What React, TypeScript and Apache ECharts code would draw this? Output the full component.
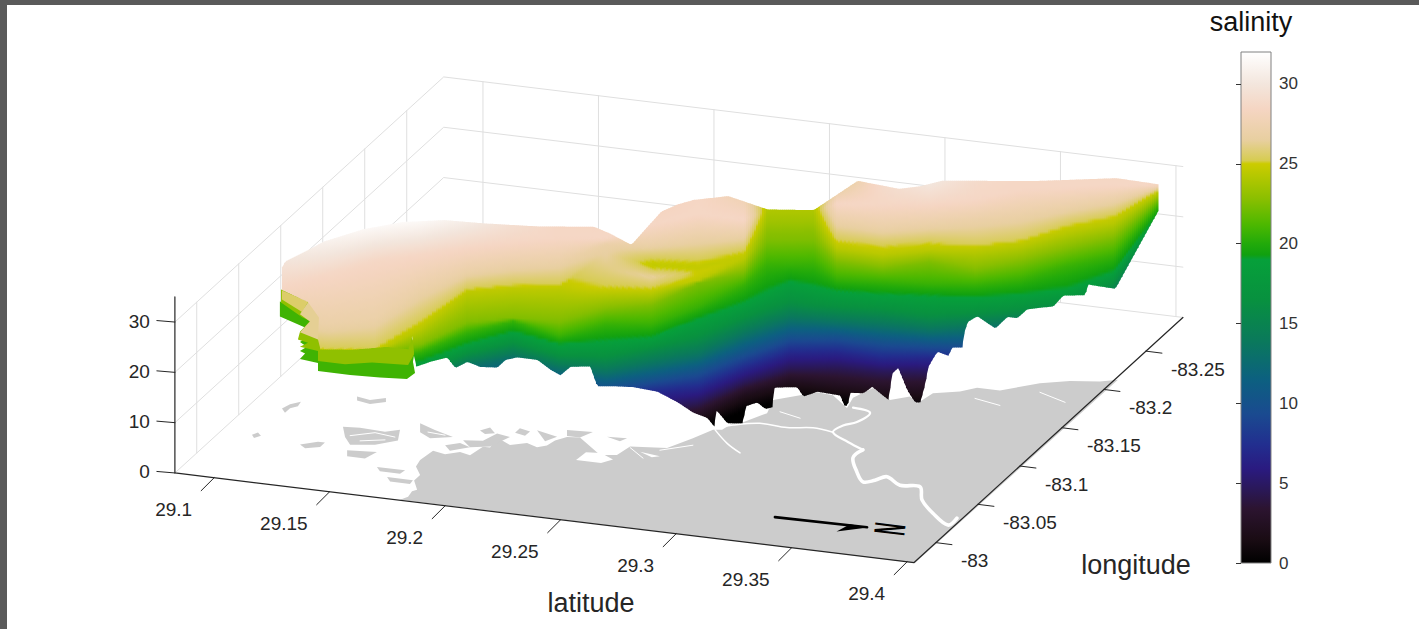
import React, { useEffect, useRef } from "react";
import * as echarts from "echarts";

// ---- axes ----
const latLimits = [29.083, 29.403];
const lonLimits = [-82.974, -83.294];
const latTicks = [29.1, 29.15, 29.2, 29.25, 29.3, 29.35, 29.4];
const latTickLabels = ["29.1", "29.15", "29.2", "29.25", "29.3", "29.35", "29.4"];
const lonTicks = [-83, -83.05, -83.1, -83.15, -83.2, -83.25];
const lonTickLabels = ["-83", "-83.05", "-83.1", "-83.15", "-83.2", "-83.25"];
const salTicks = [0, 10, 20, 30];
const colorbarTicks = [0, 5, 10, 15, 20, 25, 30];

// colormap: salinity -> colour
const cmapSal = [0, 1.5, 3.4, 4.6, 5.9, 7.4, 9.3, 11.5, 14, 16.5, 19, 19.3, 20, 21.2, 22.8, 25, 25.2, 26.5, 28.4, 30, 32];
const cmapCol = ["#000000", "#1a0c14", "#2c1430", "#2a1858", "#2a1a80", "#222e8f", "#1a4a90", "#0c6080", "#0a7a5a", "#08913f", "#06a03a", "#10a010", "#22aa0a", "#4db800", "#8abf00", "#cccc00", "#d6cc50", "#e8cfa0", "#f5d5c2", "#f3e6dd", "#ffffff"];

// ---- salinity surface: oblique transects ----
// Each transect is named by the latitude at which it crosses the -83 meridian.
// Offsets are distances along the transect, in units of 0.001152 deg of longitude.
const transectLat = [29.12, 29.14, 29.16, 29.18, 29.2, 29.22, 29.24, 29.26, 29.28, 29.3, 29.32, 29.33, 29.34, 29.35, 29.36, 29.38, 29.4, 29.42, 29.44, 29.46, 29.48, 29.5];

const offsets0 = [55, 78, 93, 104, 115, 124, 133, 134, 163, 178, 185, 198, 201, 204, 216, 211, 212, 226, 235, 242, 249, 250];
const sal0 = [30, 31.5, 32, 32, 31, 29.5, 28.5, 28.5, 28, 28.5, 27.5, 24.5, 24, 24.5, 26, 29, 30.5, 29, 28.5, 28.5, 28.5, 28.5];
const offsets1 = [35, 51, 70, 82, 95, 106, 116, 120, 140, 156, 156, 190, 193, 196, 183, 188, 194, 204, 220, 228, 235, 241];
const sal1 = [28.6, 28.6, 28.6, 28.6, 28.6, 28.6, 28.6, 28.6, 28.6, 28.6, 28.6, 24, 24, 24, 28.6, 28.6, 28.6, 28.6, 28.6, 28.6, 28.6, 28.6];
const offsets2 = [8, 9, 20, 55, 79, 91, 100, 123, 128, 141, 149, 187, 190, 193, 174, 173, 182, 192, 203, 216, 229, 247];
const sal2 = [27, 27, 27, 27, 27, 27, 27, 27, 27, 27, 27, 23.8, 23.8, 23.8, 27, 27, 27, 27, 27, 27, 27, 27];
const offsets3 = [-9, -7, -1, 33, 70, 80, 86, 119, 123, 127, 142, 182, 185, 188, 164, 164, 173, 175, 186, 207, 222, 253];
const sal3 = [25.3, 25.3, 25.3, 25.3, 25.3, 25.3, 25.3, 26.8, 25.3, 25.3, 25.3, 23.5, 23.5, 23.5, 25.3, 25.3, 25.3, 25.3, 25.3, 25.3, 25.3, 25.3];
const offsets4 = [-8, -6, 0, 31, 71, 80, 86, 115, 119, 123, 140, 177, 180, 183, 162, 161, 171, 176, 187, 206, 221, 256];
const sal4 = [24.6, 24.6, 24.6, 24.6, 24.6, 24.6, 24.6, 26.6, 24.6, 24.6, 24.6, 23, 23, 23, 24.6, 24.6, 24.6, 24.6, 24.6, 24.6, 24.6, 24.6];
const offsets5 = [-9, -7, -1, 30, 70, 79, 85, 103, 98, 115, 139, 176, 179, 182, 161, 160, 170, 175, 186, 205, 220, 255];
const sal5 = [24.5, 24.5, 24.5, 24.5, 24.5, 24.5, 24.5, 26, 26.5, 25, 24.5, 22.9, 22.9, 22.9, 24.5, 24.5, 24.5, 24.5, 24.5, 24.5, 24.5, 24.5];
const offsets6 = [-10, -8, -2, 29, 69, 78, 84, 90, 94, 110, 138, 175, 178, 181, 160, 159, 169, 174, 185, 204, 219, 256];
const sal6 = [24.4, 24.4, 24.4, 24.4, 24.4, 24.4, 24.4, 25.2, 25.2, 24.4, 24.4, 22.8, 22.8, 22.8, 24.4, 24.4, 24.4, 24.4, 24.4, 24.4, 24.4, 24.4];
const offsets7 = [-3, 0, 6, 22, 50, 60, 62, 80, 90, 118, 134, 169, 172, 175, 156, 155, 167, 164, 178, 196, 213, 259];
const sal7 = [22.5, 22.5, 22.5, 22.5, 22.5, 22.5, 22.5, 22.5, 22.5, 22.5, 22.5, 22.5, 22.5, 22.5, 22.5, 22.5, 22.5, 22.5, 22.5, 22.5, 22.5, 22.5];
const offsets8 = [0, 2, 6, 25, 50, 67, 57, 75, 80, 103, 131, 154, 157, 160, 148, 151, 154, 159, 170, 189, 205, 262];
const sal8 = [20.6, 20.6, 20.6, 20.6, 20.6, 20.6, 20.6, 20.6, 20.6, 20.6, 20.6, 20.6, 20.6, 20.6, 20.6, 20.6, 20.6, 20.6, 20.6, 20.6, 20.6, 20.6];
const offsets9 = [-4, -2, 0, 23, 46, 64, 57, 66, 75, 99, 121, 135, 148, 146, 144, 146, 150, 154, 163, 174, 197, 263];
const sal9 = [19, 19, 19, 19, 19, 19, 19, 19, 19, 19, 19, 19, 19, 19, 19, 19, 19, 19, 19, 19, 19, 19];
const offsets10 = [-2, 4, 10, 25, 50, 66, 59, 63, 78, 94, 119, 130, 140, 140, 141, 144, 144, 152, 161, 174, 199, 274];
const sal10 = [16, 16, 16, 16, 16, 16, 16, 16, 16, 16, 16, 16, 16, 16, 16, 16, 16, 16, 16, 16, 16, 16];
const offsets11 = [3, 9, 15, 30, 53, 68, 62, 63, 77, 91, 117, 128, 138, 140, 141, 143, 144, 152, 163, 176, 199, 285];
const sal11 = [13, 13, 13, 13, 13, 13, 13, 13, 13, 13, 13, 13, 13, 13, 13, 13, 13, 13, 13, 13, 13, 13];
const offsets12 = [13, 19, 25, 35, 51, 63, 65, 65, 78, 92, 116, 127, 138, 141, 144, 144, 147, 152, 163, 179, 202, 295];
const sal12 = [10, 10, 10, 10, 10, 10, 10, 10, 10, 10, 10, 10, 10, 10, 10, 10, 10, 10, 10, 10, 10, 10];
const offsets13 = [18, 24, 30, 40, 51, 61, 67, 65, 81, 91, 116, 127, 138, 141, 144, 143, 149, 152, 173, 189, 204, 305];
const sal13 = [7, 7, 7, 7, 7, 7, 7, 7, 7, 7, 7, 7, 7, 7, 7, 7, 7, 7, 7, 7, 7, 7];
const offsets14 = [20, 26, 32, 42, 51, 58, 64, 65, 75, 88, 114, 124, 134, 137, 140, 141, 146, 144, 170, 186, 201, 312];
const sal14 = [4.5, 4.5, 4.5, 4.5, 4.5, 4.5, 4.5, 4.5, 4.5, 4.5, 4.5, 4.5, 4.5, 4.5, 4.5, 4.5, 4.5, 4.5, 4.5, 4.5, 4.5, 4.5];
const offsets15 = [23, 29, 35, 45, 54, 61, 67, 63, 68, 86, 114, 123, 132, 133, 133, 134, 139, 137, 168, 184, 199, 320];
const sal15 = [2, 2, 2, 2, 2, 2, 2, 2, 2, 2, 2, 2, 2, 2, 2, 2, 2, 2, 2, 2, 2, 2];
const offsets16 = [18, 24, 30, 40, 49, 56, 62, 58, 63, 84, 109, 118, 127, 128, 128, 129, 134, 132, 163, 179, 194, 315];
const sal16 = [0, 0, 0, 0, 0, 0, 0, 0, 0, 0, 0, 0, 0, 0, 0, 0, 0, 0, 0, 0, 0, 0];

const offsetRows = [offsets0, offsets1, offsets2, offsets3, offsets4, offsets5, offsets6, offsets7, offsets8, offsets9, offsets10, offsets11, offsets12, offsets13, offsets14, offsets15, offsets16];
const salRows = [sal0, sal1, sal2, sal3, sal4, sal5, sal6, sal7, sal8, sal9, sal10, sal11, sal12, sal13, sal14, sal15, sal16];

// offshore (far) edge of the salinity surface
const backLat = [29.12, 29.121, 29.129, 29.138, 29.155, 29.172, 29.19, 29.207, 29.23, 29.255, 29.262, 29.271, 29.284, 29.291, 29.298, 29.313, 29.33, 29.35, 29.369, 29.387, 29.396, 29.406, 29.445, 29.481, 29.499];
const backOffset = [45, 51, 60, 71, 83, 95, 102, 111, 122, 131, 126, 125, 162, 166, 170, 178, 187, 197, 214, 206, 206, 212, 230, 243, 242];
const backSal = [30, 30, 30.5, 31, 32, 32, 32, 30.5, 29, 28.5, 28.5, 27, 27, 28, 28.5, 28.5, 25, 24, 27.5, 28.5, 29.5, 30, 28.5, 28.5, 28.5];

// shoreline (near) edge of the salinity surface
const frontLat = [29.1199, 29.1312, 29.1316, 29.1329, 29.1355, 29.1357, 29.1506, 29.1654, 29.1745, 29.1762, 29.1775, 29.184, 29.1913, 29.1948, 29.2, 29.2056, 29.213, 29.2165, 29.2216, 29.2303, 29.2359, 29.2403, 29.2446, 29.2532, 29.2563, 29.2632, 29.2719, 29.2823, 29.2909, 29.2978, 29.3039, 29.3074, 29.3078, 29.3126, 29.3195, 29.3203, 29.3255, 29.329, 29.3325, 29.3329, 29.3429, 29.3455, 29.3515, 29.3615, 29.3636, 29.3649, 29.3658, 29.3714, 29.3753, 29.3823, 29.384, 29.3866, 29.3905, 29.3939, 29.3961, 29.3983, 29.3996, 29.4035, 29.4082, 29.41, 29.4143, 29.4147, 29.4165, 29.4208, 29.4286, 29.4338, 29.4381, 29.4424, 29.4537, 29.458, 29.4675, 29.4688, 29.4805, 29.4991];
const frontOffset = [40, 31, 16, 5, -5, -15, -11, -4, -4, 18, 17, 34, 43, 41, 46, 45, 49, 55, 59, 64, 61, 59, 66, 69, 60, 62, 71, 77, 79, 78, 82, 83, 96, 89, 91, 103, 106, 103, 106, 118, 126, 125, 129, 128, 119, 124, 132, 133, 138, 132, 149, 150, 139, 135, 136, 143, 145, 151, 148, 152, 153, 159, 159, 161, 156, 159, 159, 164, 165, 172, 175, 181, 180, 263];
const frontSal = [26.5, 26.5, 26.5, 26.5, 26.5, 26.5, 26.5, 26.5, 26.5, 25, 19, 17, 16.5, 15, 15.5, 15, 14.5, 15, 15, 14, 13, 12.5, 13, 13, 11, 11, 9.5, 8, 6, 4.5, 3, 1, 2, 1, 1, 2, 2.5, 2, 2, 3.5, 2.5, 1, 1.5, 1.5, 1, 1, 1.5, 1.5, 2, 1, 3, 4, 2, 0.5, 0.5, 3, 6, 8, 8, 9, 9, 10, 13, 14, 13, 15, 15, 16, 17, 18, 18, 19, 19, 19];

// terraces of the surface along its shoreline: [transect latitude, offset], one salinity each
const terraceLeftGreenSal = 20.8;
const terraceLeftGreen = [[29.119, 57], [29.119, 42], [29.1299, 34], [29.1277, 29], [29.132, 27], [29.1277, 19], [29.1307, 15], [29.1277, 10], [29.1299, 8], [29.1277, 2], [29.1355, 0], [29.1355, -8], [29.1494, -8], [29.1623, -7], [29.174, -5], [29.1775, 2], [29.1766, 13], [29.1779, 31], [29.1537, 39], [29.1355, 44], [29.1277, 52]];
const terraceLeftOliveSal = 23;
const terraceLeftOlive = [[29.1195, 58], [29.1195, 45], [29.1286, 33], [29.132, 30], [29.1277, 18], [29.1268, 10], [29.1312, 8], [29.1277, 3], [29.1355, 1], [29.1355, -9], [29.1472, -9], [29.1589, -4], [29.1745, -2], [29.1784, 15], [29.1753, 29], [29.1355, 28], [29.132, 52]];
const terraceLeftTanSal = 25.6;
const terraceLeftTan = [[29.1199, 44], [29.1312, 36], [29.1286, 25], [29.1199, 35]];
const terraceLobeSal = 26.3;
const terraceLobe = [[29.1277, 19], [29.132, 13], [29.1277, 1], [29.1355, -4], [29.1359, 18], [29.1312, 32]];

// land on the floor of the plot: [transect latitude, offset]
const landMain = [[29.171, -22], [29.1745, -18], [29.1762, -12], [29.1784, -10], [29.1771, -1], [29.1797, 5], [29.1779, 13], [29.1797, 20], [29.1853, 31], [29.1905, 29], [29.197, 33], [29.2013, 31], [29.2069, 41], [29.21, 41], [29.213, 52], [29.2186, 46], [29.226, 50], [29.2303, 47], [29.2346, 50], [29.2381, 56], [29.2433, 61], [29.2489, 62], [29.2576, 47], [29.2649, 49], [29.2706, 59], [29.2866, 62], [29.2978, 75], [29.3065, 86], [29.3104, 87], [29.3152, 95], [29.3195, 97], [29.3299, 109], [29.3325, 123], [29.3442, 131], [29.3515, 136], [29.3584, 135], [29.3645, 124], [29.3671, 135], [29.3758, 147], [29.3831, 137], [29.3918, 143], [29.3948, 137], [29.4017, 149], [29.4134, 154], [29.4208, 160], [29.4307, 160], [29.448, 172], [29.461, 178], [29.474, 181], [29.4818, 185], [29.3939, -23]];
const landIslands = [
  [[29.1524, 76], [29.158, 74], [29.1649, 78], [29.1649, 74], [29.158, 70], [29.1524, 72]],
  [[29.1199, 55], [29.1234, 60], [29.1281, 64], [29.1268, 59], [29.1234, 56], [29.1212, 51]],
  [[29.1069, 25], [29.1095, 28], [29.1108, 25], [29.1078, 22]],
  [[29.1277, 21], [29.1355, 26], [29.1385, 26], [29.1364, 21], [29.1299, 18]],
  [[29.1463, 44], [29.1537, 45], [29.1645, 44], [29.171, 48], [29.1701, 37], [29.1602, 30], [29.1494, 27], [29.1472, 34]],
  [[29.1797, 57], [29.1861, 52], [29.1939, 47], [29.184, 43], [29.1797, 48]],
  [[29.1654, -1], [29.1766, -1], [29.1753, -5], [29.1667, -5]],
  [[29.161, 8], [29.1732, 8], [29.171, 4], [29.1623, 4]],
  [[29.1481, 21], [29.161, 23], [29.1558, 15], [29.1481, 15]],
  [[29.1983, 45], [29.2069, 47], [29.213, 56], [29.2186, 54], [29.21, 42], [29.2013, 39]],
  [[29.2303, 64], [29.239, 60], [29.2338, 54]],
  [[29.2433, 68], [29.2545, 69], [29.2489, 62], [29.2433, 62]],
  [[29.2606, 66], [29.2693, 67], [29.2662, 63]],
  [[29.2056, 57], [29.21, 61], [29.2121, 56], [29.2078, 54]],
  [[29.2229, 64], [29.2273, 62], [29.2251, 57], [29.2208, 59]],
  [[29.1905, 38], [29.197, 42], [29.2013, 39], [29.1926, 33]],
];
const landHoles = [
  [[29.2472, 39], [29.2515, 48], [29.258, 49], [29.2632, 44], [29.258, 39]],
  [[29.2749, 55], [29.2835, 53], [29.28, 51]],
];
// creeks across the land: wide river, its two branches, thin creeks
const riverLower = [[29.4121, 27], [29.4082, 19], [29.4017, 29], [29.397, 41], [29.3961, 54], [29.3874, 53], [29.3818, 60], [29.3766, 55], [29.3714, 52], [29.3688, 61], [29.3671, 75], [29.3714, 84]];
const riverUpper = [[29.3714, 84], [29.3649, 90], [29.3584, 98], [29.3628, 106], [29.3688, 111], [29.3745, 122], [29.3671, 125]];
const riverBranchA = [[29.3584, 98], [29.3498, 100], [29.3385, 97], [29.3268, 98], [29.3152, 93], [29.3082, 88]];
const riverBranchB = [[29.3074, 86], [29.3126, 74], [29.3182, 66]];
const creeks = [[[29.3355, 112], [29.3442, 108]], [[29.2706, 58], [29.2762, 49]], [[29.2835, 59], [29.2978, 68]], [[29.4199, 149], [29.4307, 145]], [[29.448, 163], [29.4589, 156]], [[29.1494, 36], [29.1602, 42], [29.1688, 40]], [[29.1537, 32], [29.1645, 36]], [[29.1831, 49], [29.1905, 48]]];
// north arrow on the floor
const northArrowLine = [[29.3333, 6], [29.3732, 7]];
const northArrowHead = [[29.36, -1], [29.3736, 7], [29.3658, 8]];

// ---- projection ----
const O = [236, 457.8];
const perLat = [115.5, 14];
const perLon = [42, -38.3];
const perSal = 5.03;
function project(lat: number, lon: number, sal: number): number[] {
  const u = (lat - 29.1) / 0.05;
  const v = (-83 - lon) / 0.05;
  return [O[0] + perLat[0] * u + perLon[0] * v, O[1] + perLat[1] * u + perLon[1] * v - perSal * sal];
}
function oblique(lat0: number, offset: number, sal: number): number[] {
  const lon = -83 - 0.001152 * offset;
  const lat = lat0 + 0.3636 * (lon + 83);
  return project(lat, lon, sal);
}

function hex(c: string) {
  return [parseInt(c.slice(1, 3), 16), parseInt(c.slice(3, 5), 16), parseInt(c.slice(5, 7), 16)];
}
const cmapRgb = cmapCol.map(hex);
function colorOf(sal: number): string {
  if (sal <= cmapSal[0]) return cmapCol[0];
  for (let i = 1; i < cmapSal.length; i++) {
    if (sal <= cmapSal[i]) {
      const t = (sal - cmapSal[i - 1]) / (cmapSal[i] - cmapSal[i - 1]);
      const a = cmapRgb[i - 1], b = cmapRgb[i];
      return `rgb(${Math.round(a[0] + (b[0] - a[0]) * t)},${Math.round(a[1] + (b[1] - a[1]) * t)},${Math.round(a[2] + (b[2] - a[2]) * t)})`;
    }
  }
  return cmapCol[cmapCol.length - 1];
}

function interpY(nodes: number[][], x: number): number {
  if (x <= nodes[0][0]) return nodes[0][1];
  for (let i = 1; i < nodes.length; i++) {
    if (x <= nodes[i][0]) {
      const d = nodes[i][0] - nodes[i - 1][0];
      if (d <= 0) return nodes[i][1];
      return nodes[i - 1][1] + ((nodes[i][1] - nodes[i - 1][1]) * (x - nodes[i - 1][0])) / d;
    }
  }
  return nodes[nodes.length - 1][1];
}

type Shape = any;

function buildStrips(): Shape[] {
  const back = backLat.map((l, i) => oblique(l, backOffset[i], backSal[i]));
  const front = frontLat.map((l, i) => oblique(l, frontOffset[i], frontSal[i]));
  const rows = offsetRows.map((row, r) => row.map((off, c) => {
    const p = oblique(transectLat[c], off, salRows[r][c]);
    return [p[0], p[1], salRows[r][c]];
  }));
  const out: Shape[] = [];
  const startX = project(29.1199, -83, 0)[0];
  const endX = project(29.4991, -83, 0)[0];
  const step = 2;
  for (let x = startX; x < endX; x += step) {
    const x2 = Math.min(x + step, endX);
    const xm = (x + x2) / 2;
    const t1 = interpY(back, x), t2 = interpY(back, x2);
    const b1 = interpY(front, x), b2 = interpY(front, x2);
    if (Math.max(b1, b2) <= Math.min(t1, t2)) continue;
    const prof = rows.map((row) => [interpY(row, xm), interpY(row.map((n) => [n[0], n[2]]), xm)]);
    prof.sort((a, b) => a[0] - b[0]);
    const salAt = (y: number) => {
      if (y <= prof[0][0]) return prof[0][1];
      for (let i = 1; i < prof.length; i++) {
        if (y <= prof[i][0]) {
          const d = prof[i][0] - prof[i - 1][0];
          return d <= 0 ? prof[i][1] : prof[i - 1][1] + ((prof[i][1] - prof[i - 1][1]) * (y - prof[i - 1][0])) / d;
        }
      }
      return prof[prof.length - 1][1];
    };
    const y0 = Math.min(t1, t2), y1 = Math.max(b1, b2);
    const stops: any[] = [];
    const ys: number[] = [];
    for (let y = y0; y < y1; y += 3) ys.push(y);
    ys.push(y1);
    ys.forEach((y) => stops.push({ offset: (y - y0) / (y1 - y0), color: colorOf(salAt(y)) }));
    out.push({
      t: "grad",
      p: [[x, t1], [x2 + 0.6, t2], [x2 + 0.6, b2], [x, b1]],
      stops,
    });
  }
  return out;
}

function polyOf(pts: number[][], sal: number, fill?: string): Shape {
  return { t: "poly", p: pts.map((q) => oblique(q[0], q[1], sal)), fill: fill || colorOf(sal) };
}
function lineOf(pts: number[][], stroke: string, w: number, smooth = 0): Shape {
  return { t: "line", p: pts, stroke, w, smooth };
}
function textOf(x: number, y: number, text: string, size: number, align: string, extra: any = {}): Shape {
  return { t: "text", at: [x, y], text, size, align, ...extra };
}

function buildWalls(): Shape[] {
  const s: Shape[] = [];
  const grid = "#dfdfdf";
  const [la0, la1] = latLimits;
  const [lo0, lo1] = lonLimits;
  salTicks.forEach((z) => {
    s.push(lineOf([project(la0, lo0, z), project(la0, lo1, z), project(la1, lo1, z)], grid, 1));
  });
  latTicks.forEach((l) => s.push(lineOf([project(l, lo1, 0), project(l, lo1, 30)], grid, 1)));
  lonTicks.forEach((l) => s.push(lineOf([project(la0, l, 0), project(la0, l, 30)], grid, 1)));
  return s;
}

function buildLand(): Shape[] {
  const land = "#cccccc";
  const s: Shape[] = [polyOf(landMain, 0, land)];
  landIslands.forEach((i) => s.push(polyOf(i, 0, land)));
  landHoles.forEach((i) => s.push(polyOf(i, 0, "#ffffff")));
  const ln = (pts: number[][], w: number, smooth = 0.35) => lineOf(pts.map((q) => oblique(q[0], q[1], 0)), "#ffffff", w, smooth);
  s.push(ln(riverLower, 3.6), ln(riverUpper, 2.2), ln(riverBranchA, 1.5), ln(riverBranchB, 1.5));
  creeks.forEach((c) => s.push(ln(c, 1, 0)));
  s.push(lineOf(northArrowLine.map((q) => oblique(q[0], q[1], 0)), "#000000", 2.6));
  s.push(polyOf(northArrowHead, 0, "#000000"));
  s.push(textOf(890, 529, "N", 44, "center", {
    rotation: -1.69, scaleX: 0.36, scaleY: 1, weight: "bold", fill: "#000000",
  }));
  return s;
}

function buildAxes(): Shape[] {
  const s: Shape[] = [];
  const ink = "#262626";
  const [la0, la1] = latLimits;
  const [lo0, lo1] = lonLimits;
  const c0 = project(la0, lo0, 0);
  s.push(lineOf([project(la0, lo0, 35), c0, project(la1, lo0, 0), project(la1, lo1, 0)], ink, 1.2));
  salTicks.forEach((z) => {
    const p = project(la0, lo0, z);
    s.push(lineOf([p, [p[0] - 18, p[1] - 1.5]], ink, 1));
    s.push(textOf(p[0] - 25, p[1] - 1, String(z), 19, "right"));
  });
  latTicks.forEach((l, i) => {
    const p = project(l, lo0, 0);
    s.push(lineOf([p, [p[0] - 13, p[1] + 13]], ink, 1));
    s.push(textOf(p[0] - 22, p[1] + 32, latTickLabels[i], 19, "right"));
  });
  lonTicks.forEach((l, i) => {
    const p = project(la1, l, 0);
    s.push(lineOf([p, [p[0] + 16, p[1] + 2]], ink, 1));
    s.push(textOf(p[0] + 25, p[1] + 18, lonTickLabels[i], 19, "left"));
  });
  s.push(textOf(591, 603, "latitude", 27, "center"));
  s.push(textOf(1136, 565, "longitude", 27, "center"));
  s.push(textOf(1251, 22, "salinity", 27, "center", { fill: "#111111" }));
  return s;
}

function draw(s: Shape, api: any) {
  const c = (p: number[]) => api.coord(p);
  if (s.t === "poly") return { type: "polygon", shape: { points: s.p.map(c) }, style: { fill: s.fill } };
  if (s.t === "grad") {
    return {
      type: "polygon",
      shape: { points: s.p.map(c) },
      style: { fill: new echarts.graphic.LinearGradient(0, 0, 0, 1, s.stops) },
    };
  }
  if (s.t === "line") {
    return {
      type: "polyline",
      shape: { points: s.p.map(c), smooth: s.smooth || 0 },
      style: { stroke: s.stroke, lineWidth: s.w, fill: "none", lineJoin: "round", lineCap: "round" },
    };
  }
  const at = c(s.at);
  return {
    type: "text",
    x: at[0],
    y: at[1],
    rotation: s.rotation || 0,
    scaleX: s.scaleX || 1,
    scaleY: s.scaleY || 1,
    style: {
      text: s.text,
      fill: s.fill || "#262626",
      fontFamily: "Liberation Sans",
      fontSize: s.size,
      fontWeight: s.weight || "normal",
      align: s.align,
      verticalAlign: "middle",
    },
  };
}

function layer(z: number, shapes: Shape[]) {
  return {
    type: "custom",
    coordinateSystem: "cartesian2d",
    xAxisIndex: 0,
    yAxisIndex: 0,
    z,
    silent: true,
    clip: false,
    progressive: 0,
    animation: false,
    data: shapes.map((_, i) => [i, 0]),
    renderItem: (p: any, api: any) => draw(shapes[p.dataIndex], api),
  };
}

function buildOption(): any {
  const terracesUnder = [
    polyOf(terraceLeftGreen, terraceLeftGreenSal),
    polyOf(terraceLeftOlive, terraceLeftOliveSal),
    polyOf(terraceLeftTan, terraceLeftTanSal),
  ];
  const salMax = cmapSal[cmapSal.length - 1];
  const colorbarStops = cmapSal.map((z, i) => ({ offset: z / salMax, color: cmapCol[i] }));
  return {
    animation: false,
    backgroundColor: "#ffffff",
    grid: [
      { left: 0, top: 0, width: 1419, height: 629, show: false },
      { left: 1241, top: 52, width: 30, height: 511, show: true, borderColor: "#808080", borderWidth: 1, z: 20 },
    ],
    xAxis: [
      { type: "value", gridIndex: 0, min: 0, max: 1419, show: false },
      { type: "value", gridIndex: 1, min: 0, max: 1, show: false },
    ],
    yAxis: [
      { type: "value", gridIndex: 0, min: 0, max: 629, inverse: true, show: false },
      {
        type: "value", gridIndex: 1, min: 0, max: salMax, position: "right", z: 30,
        axisLine: { show: false },
        splitLine: { show: false },
        axisTick: { show: true, inside: true, length: 5, customValues: colorbarTicks, lineStyle: { color: "#333333" } },
        axisLabel: { show: true, customValues: colorbarTicks, color: "#333333", fontSize: 17, fontFamily: "Liberation Sans", margin: 8 },
      },
    ],
    graphic: [
      { type: "rect", z: 100, shape: { x: 0, y: 0, width: 1419, height: 5 }, style: { fill: "#5a5a5a" } },
      { type: "rect", z: 100, shape: { x: 0, y: 0, width: 7, height: 629 }, style: { fill: "#5a5a5a" } },
    ],
    series: [
      layer(1, buildWalls()),
      layer(2, buildLand()),
      layer(3, terracesUnder),
      layer(4, buildStrips()),
      layer(5, [polyOf(terraceLobe, terraceLobeSal)]),
      layer(6, buildAxes()),
      {
        type: "custom",
        coordinateSystem: "cartesian2d",
        xAxisIndex: 1,
        yAxisIndex: 1,
        z: 7,
        silent: true,
        clip: false,
        progressive: 0,
        data: [[0, 0]],
        renderItem: (_: any, api: any) => {
          const a = api.coord([0, salMax]);
          const b = api.coord([1, 0]);
          return {
            type: "rect",
            shape: { x: a[0], y: a[1], width: b[0] - a[0], height: b[1] - a[1] },
            style: { fill: new echarts.graphic.LinearGradient(0, 1, 0, 0, colorbarStops) },
          };
        },
      },
    ],
  };
}

export default function App() {
  const ref = useRef<HTMLDivElement>(null);
  useEffect(() => {
    document.body.style.margin = "0";
    document.body.style.background = "#ffffff";
    const chart = echarts.init(ref.current!, undefined, { renderer: "svg" });
    chart.setOption(buildOption());
    return () => chart.dispose();
  }, []);
  return <div ref={ref} style={{ position: "fixed", left: 0, top: 0, width: 1419, height: 629 }} />;
}
